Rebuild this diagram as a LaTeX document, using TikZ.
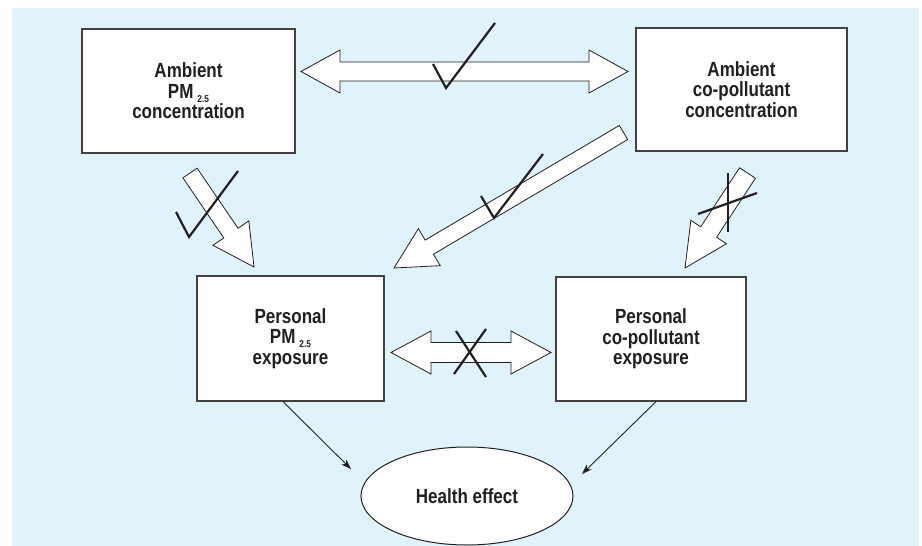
\documentclass[tikz,border=0pt]{standalone}
\usepackage{fontspec}
\setmainfont{Liberation Sans}[FakeStretch=0.83]
\usetikzlibrary{arrows.meta,shapes.geometric}
\definecolor{bgblue}{HTML}{E0F2FA}
\definecolor{ink}{HTML}{231F20}
\newcommand\figtext{\fontsize{20.5}{20.5}\selectfont\bfseries\color{ink}}
\newcommand\pmsub{PM\hspace{4pt}\raisebox{-4pt}[0pt][0pt]{\fontsize{10}{10}\selectfont 2.5}}
\tikzset{
  box/.style={draw=ink!85, line width=1.2pt, fill=white, inner sep=0pt, align=center, font=\figtext},
  fat/.style={draw=ink, line width=0.8pt, fill=white, line join=miter},
  tickline/.style={draw=ink, line width=2.2pt},
  thinarrow/.style={draw=ink, line width=0.9pt, -{Stealth[length=10pt,width=7pt,inset=3pt]}}
}
\newcommand\fatprep[2]{%
  \pgfpointdiff{\pgfpointanchor{#1}{center}}{\pgfpointanchor{#2}{center}}%
  \pgfgetlastxy\fadx\fady
  \pgfmathsetmacro\faAngle{atan2(\fady,\fadx)}%
  \pgfmathsetmacro\faLen{veclen(\fadx,\fady)}}
\newcommand\fatarrow[5]{%
  \fatprep{#1}{#2}%
  \begin{scope}[shift={(#1)},rotate=\faAngle,x=1pt,y=1pt]
    \draw[fat] (0,-#3) -- ({\faLen-#5},-#3) -- ({\faLen-#5},-#4) -- (\faLen,0)
      -- ({\faLen-#5},#4) -- ({\faLen-#5},#3) -- (0,#3) -- cycle;
  \end{scope}}
\newcommand\fatdarrow[5]{%
  \fatprep{#1}{#2}%
  \begin{scope}[shift={(#1)},rotate=\faAngle,x=1pt,y=1pt]
    \draw[fat] (0,0) -- (#5,#4) -- (#5,#3) -- ({\faLen-#5},#3) -- ({\faLen-#5},#4)
      -- (\faLen,0) -- ({\faLen-#5},-#4) -- ({\faLen-#5},-#3) -- (#5,-#3) -- (#5,-#4) -- cycle;
  \end{scope}}
\begin{document}
\begin{tikzpicture}[x=1pt,y=-1pt]
\useasboundingbox (0,0) rectangle (922,546);
\fill[bgblue] (12,8) rectangle (919,546);

% boxes
\node[box, minimum width=213pt, minimum height=124pt] (b1) at (188.5,91) {Ambient\\\pmsub\\concentration};
\node[box, minimum width=211pt, minimum height=123pt] (b2) at (741.5,89.5) {Ambient\\co-pollutant\\concentration};
\node[box, minimum width=187pt, minimum height=125pt] (b3) at (290.5,338.5) {Personal\\\pmsub\\exposure};
\node[box, minimum width=190pt, minimum height=124pt] (b4) at (651,339) {Personal\\co-pollutant\\exposure};
\node[ellipse, draw=ink, line width=1pt, fill=white, inner sep=0pt, minimum width=212pt, minimum height=98pt, font=\figtext] (he) at (467,496) {Health effect};

% block arrow end points
\coordinate (a1) at (301,71.5);   \coordinate (a2) at (628,71.5);
\coordinate (c1) at (190,173);    \coordinate (c2) at (254,267);
\coordinate (d1) at (623.5,132.5);\coordinate (d2) at (394,268);
\coordinate (e1) at (747.5,173);  \coordinate (e2) at (685,268);
\coordinate (f1) at (391,352.5);  \coordinate (f2) at (551,352.5);
\coordinate (t1) at (351,469);    \coordinate (t2) at (582,474);

\fatdarrow{a1}{a2}{9.5}{21.5}{39}
\fatarrow{c1}{c2}{8.6}{21.7}{41}
\fatarrow{d1}{d2}{8.2}{21.5}{41}
\fatarrow{e1}{e2}{9.5}{21.3}{43}
\fatdarrow{f1}{f2}{10}{21.5}{40}

% thin arrows
\draw[thinarrow] ([xshift=-7.5pt]b3.south) -- (t1);
\draw[thinarrow] ([xshift=5pt]b4.south) -- (t2);

% check marks and crosses
\draw[tickline] (433,64) -- (446,88) -- (495,23);
\draw[tickline] (176,212) -- (189,237) -- (238,171);
\draw[tickline] (481,196) -- (494,218) -- (543,154);
\draw[tickline] (728,173) -- (728,232);
\draw[tickline] (698,214) -- (757,193);
\draw[tickline] (456,331) -- (486,377);
\draw[tickline] (486,329) -- (454,374);
\end{tikzpicture}
\end{document}
